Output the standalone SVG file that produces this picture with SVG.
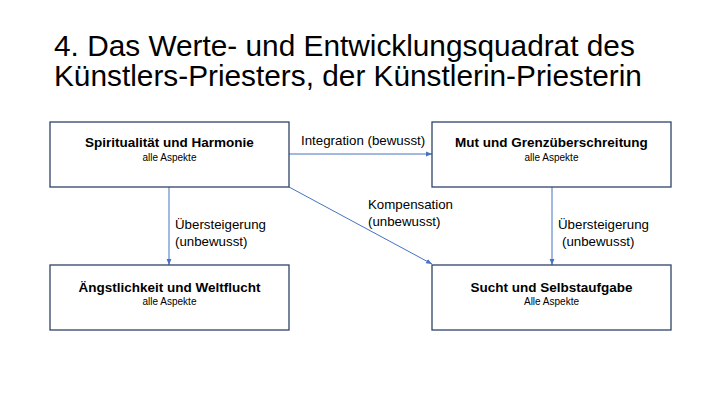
<svg xmlns="http://www.w3.org/2000/svg" width="720" height="405" viewBox="0 0 720 405">
<style>
.title{font-family:"Liberation Sans",Arial,sans-serif;font-size:29.8px;fill:#000}
.box{fill:#fff;stroke:#2F4468;stroke-width:1.3}
.nt{font-family:"Liberation Sans",Arial,sans-serif;font-size:13.5px;font-weight:bold;fill:#000;text-anchor:middle}
.ns{font-family:"Liberation Sans",Arial,sans-serif;font-size:10px;fill:#000;text-anchor:middle}
.el{font-family:"Liberation Sans",Arial,sans-serif;font-size:13.3px;fill:#000}
.conn{stroke:#4472C4;stroke-width:1;fill:none;marker-end:url(#ah)}
</style>
<defs>
<marker id="ah" viewBox="0 0 10 10" refX="10" refY="5" markerWidth="6" markerHeight="6" markerUnits="userSpaceOnUse" orient="auto">
<path d="M0,1 L10,5 L0,9 z" fill="#4472C4"/>
</marker>
</defs>
<rect width="720" height="405" fill="#fff"/>
<text class="title" x="54" y="56">4. Das Werte- und Entwicklungsquadrat des</text>
<text class="title" x="54" y="86">Künstlers-Priesters, der Künstlerin-Priesterin</text>
<g id="connectors">
<line class="conn" x1="289" y1="154" x2="432" y2="154"/>
<line class="conn" x1="169" y1="187" x2="169" y2="265"/>
<line class="conn" x1="552" y1="187" x2="552" y2="265"/>
<line class="conn" x1="289" y1="187" x2="432" y2="264"/>
<text class="el" x="301" y="145">Integration (bewusst)</text>
<text class="el" x="175" y="229">Übersteigerung</text>
<text class="el" x="175" y="246">(unbewusst)</text>
<text class="el" x="558" y="229">Übersteigerung</text>
<text class="el" x="562" y="246">(unbewusst)</text>
<text class="el" x="368" y="209">Kompensation</text>
<text class="el" x="368" y="226">(unbewusst)</text>
</g>
<g id="node-spiritualitaet">
<rect class="box" x="50" y="122" width="239" height="65"/>
<text class="nt" x="169.5" y="147">Spiritualität und Harmonie</text>
<text class="ns" x="169.5" y="161">alle Aspekte</text>
</g>
<g id="node-mut">
<rect class="box" x="432" y="122" width="239" height="65"/>
<text class="nt" x="551.5" y="147">Mut und Grenzüberschreitung</text>
<text class="ns" x="551.5" y="161">alle Aspekte</text>
</g>
<g id="node-aengstlichkeit">
<rect class="box" x="50" y="265" width="239" height="65"/>
<text class="nt" x="169.5" y="292">Ängstlichkeit und Weltflucht</text>
<text class="ns" x="169.5" y="305">alle Aspekte</text>
</g>
<g id="node-sucht">
<rect class="box" x="432" y="265" width="239" height="65"/>
<text class="nt" x="551.5" y="292">Sucht und Selbstaufgabe</text>
<text class="ns" x="551.5" y="305">Alle Aspekte</text>
</g>
</svg>
